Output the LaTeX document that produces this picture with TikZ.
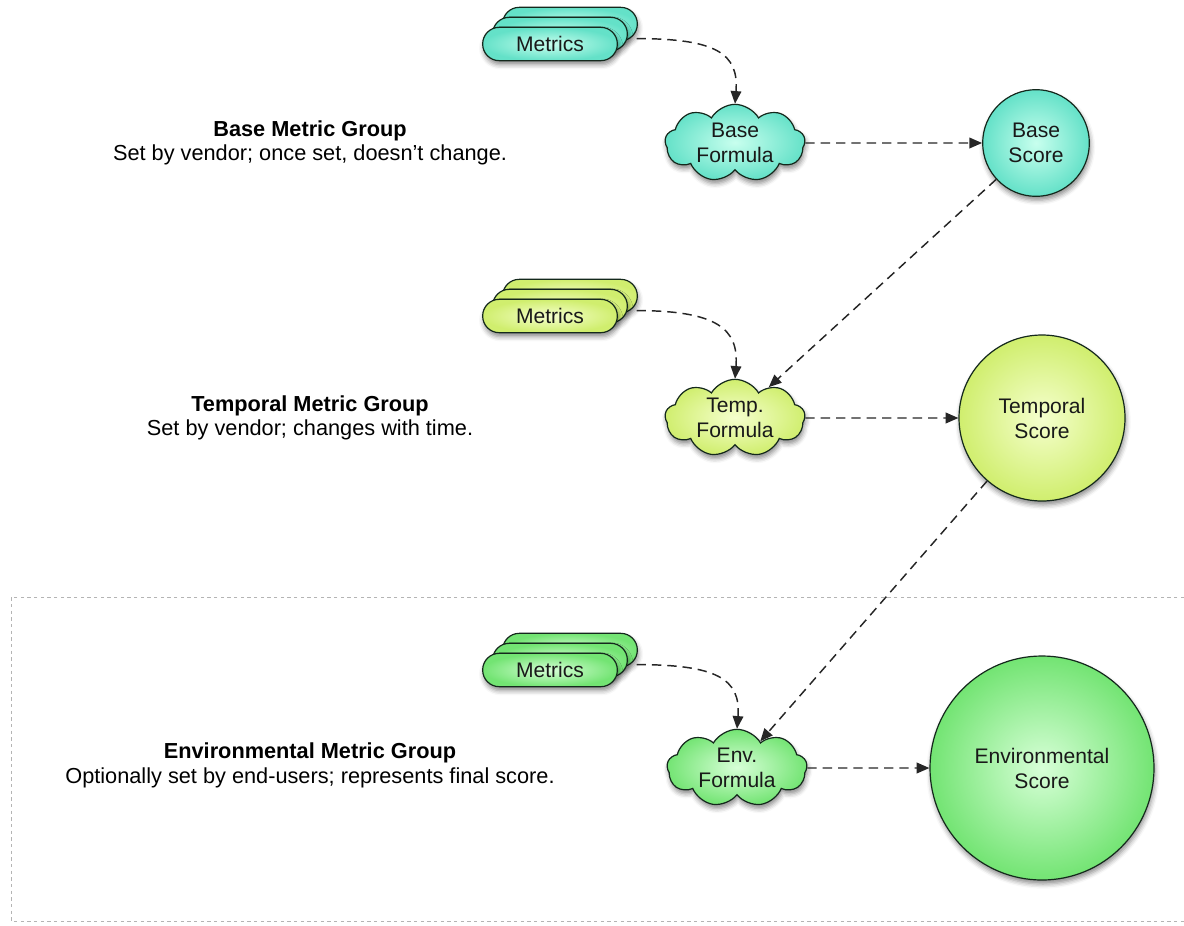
\documentclass[tikz,border=0pt]{standalone}
\usepackage{fontspec}
\setmainfont{Liberation Sans}
\usetikzlibrary{shapes.symbols,shadows.blur,arrows.meta,calc}
\definecolor{cyanO}{RGB}{100,225,200}
\definecolor{cyanI}{RGB}{200,255,238}
\definecolor{yelO}{RGB}{208,238,110}
\definecolor{yelI}{RGB}{245,255,205}
\definecolor{grnO}{RGB}{115,228,115}
\definecolor{grnI}{RGB}{215,255,215}
\definecolor{edgec}{RGB}{20,40,28}
\definecolor{boxc}{RGB}{180,180,180}
\begin{document}
\begin{tikzpicture}[x=0.75pt,y=-0.75pt,
  every node/.style={font=\fontsize{15.8}{18.75}\selectfont, align=center, text=black!90},
  softshadow/.style={blur shadow={shadow xshift=0.8pt, shadow yshift=-3pt, shadow blur radius=3.5pt, shadow opacity=45}},
  cyanfill/.style={shading=radial, inner color=cyanI, outer color=cyanO},
  yelfill/.style={shading=radial, inner color=yelI, outer color=yelO},
  grnfill/.style={shading=radial, inner color=grnI, outer color=grnO},
  pillbox/.style={draw=edgec, line width=0.9pt, rectangle, rounded corners=12.4pt,
    minimum width=101pt, minimum height=25pt, inner sep=0pt, softshadow},
  cloudbox/.style={draw=edgec, line width=0.9pt, cloud, cloud puffs=9, cloud puff arc=120,
    aspect=1.9, minimum width=105pt, minimum height=58pt, inner sep=0pt, softshadow},
  scorebox/.style={draw=edgec, line width=0.9pt, circle, inner sep=0pt, softshadow},
  conn/.style={draw=black!85, line width=1.1pt, dash pattern=on 7pt off 4.5pt,
    -{Triangle[length=9.5pt,width=8pt]}},
  grouptitle/.style={font=\fontsize{16.3}{19}\selectfont\bfseries, text=black},
  groupdesc/.style={font=\fontsize{16.3}{19}\selectfont, text=black}
]
\useasboundingbox (0,0) rectangle (1184,925);

% environmental group frame
\draw[boxc, line width=0.7pt, dash pattern=on 2.5pt off 2.5pt]
  (1184,597) -- (11,597) -- (11,921) -- (1184,921);

% ---- Base group
\node[pillbox, cyanfill] (m1a) at (570,24) {};
\node[pillbox, cyanfill] (m1b) at (560,34) {};
\node[pillbox, cyanfill] (m1) at (550,44) {Metrics};
\node[cloudbox, cyanfill] (bf) at (735,143) {Base\\Formula};
\node[scorebox, cyanfill, minimum size=80pt] (bs) at (1036,143) {Base\\Score};
\node[grouptitle] (bt) at (310,131) {Base Metric Group};
\node[groupdesc] (bd) at (310,155) {Set by vendor; once set, doesn't change.};

% ---- Temporal group
\node[pillbox, yelfill] (m2a) at (570,296) {};
\node[pillbox, yelfill] (m2b) at (560,306) {};
\node[pillbox, yelfill] (m2) at (550,316) {Metrics};
\node[cloudbox, yelfill] (tf) at (735,418) {Temp.\\Formula};
\node[scorebox, yelfill, minimum size=124.5pt] (ts) at (1042,418) {Temporal\\Score};
\node[grouptitle] (tt) at (310,406) {Temporal Metric Group};
\node[groupdesc] (td) at (310,430) {Set by vendor; changes with time.};

% ---- Environmental group
\node[pillbox, grnfill] (m3a) at (570,650) {};
\node[pillbox, grnfill] (m3b) at (560,660) {};
\node[pillbox, grnfill] (m3) at (550,670) {Metrics};
\node[cloudbox, grnfill] (ef) at (737,768) {Env.\\Formula};
\node[scorebox, grnfill, minimum size=168pt] (es) at (1042,768) {Environmental\\Score};
\node[grouptitle] (et) at (310,753) {Environmental Metric Group};
\node[groupdesc] (ed) at (310,778) {Optionally set by end-users; represents final score.};

% ---- connectors
\draw[conn] ([xshift=-1pt,yshift=2pt]m1a.south east) .. controls +(80,0) and +(4,-50) .. (bf.north);
\draw[conn] (bf) -- (bs);
\draw[conn] (bs) -- (tf);
\draw[conn] ([xshift=-1pt,yshift=2pt]m2a.south east) .. controls +(80,0) and +(4,-50) .. (tf.north);
\draw[conn] (tf) -- (ts);
\draw[conn] (ts) -- (ef);
\draw[conn] ([xshift=-1pt,yshift=2pt]m3a.south east) .. controls +(80,0) and +(4,-50) .. (ef.north);
\draw[conn] (ef) -- (es);
\end{tikzpicture}
\end{document}
